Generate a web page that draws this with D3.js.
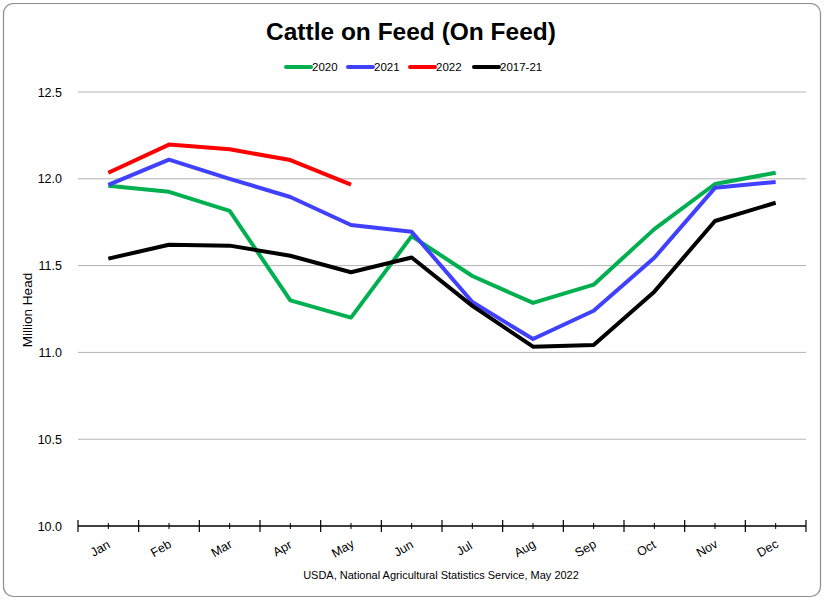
<!DOCTYPE html>
<html><head><meta charset="utf-8">
<script src="https://cdn.jsdelivr.net/npm/d3@7"></script>
<style>
body{margin:0;background:#fff;}
svg{display:block;}
</style></head>
<body>
<script>
const months = ["Jan","Feb","Mar","Apr","May","Jun","Jul","Aug","Sep","Oct","Nov","Dec"];
const yTicks = [10.0, 10.5, 11.0, 11.5, 12.0, 12.5];
const s2020 = [11.96,11.925,11.815,11.30,11.20,11.67,11.44,11.285,11.39,11.71,11.97,12.035];
const s2021 = [11.965,12.11,12.0,11.895,11.734,11.695,11.29,11.077,11.24,11.545,11.948,11.982];
const s2022 = [12.035,12.197,12.17,12.108,11.967];
const s1721 = [11.54,11.62,11.615,11.557,11.462,11.547,11.268,11.033,11.043,11.35,11.757,11.862];
const seriesNames = ["2020","2021","2022","2017-21"];
const seriesColors = ["#00B050","#4040FF","#FF0000","#000000"];
const seriesData = [s2020, s2021, s2022, s1721];

const W = 825, H = 602;
const font = "'Liberation Sans Narrow','Liberation Sans',Arial,sans-serif";
const svg = d3.select("body").append("svg").attr("width", W).attr("height", H);

svg.append("rect").attr("x",3.5).attr("y",3.5).attr("width",817).attr("height",593)
  .attr("rx",10).attr("fill","#fff").attr("stroke","#8c8c8c").attr("stroke-width",1.2);

const pL = 78, pR = 806, pT = 92, pB = 526;
const x = d3.scaleBand().domain(months).range([pL, pR]);
const y = d3.scaleLinear().domain([10, 12.5]).range([pB, pT]);

// title
svg.append("text").attr("x", 411).attr("y", 40).attr("text-anchor","middle")
  .attr("font-family", font).attr("font-weight","bold").attr("font-size", 24.5)
  .text("Cattle on Feed (On Feed)");

// gridlines
svg.append("g").selectAll("line").data(yTicks.filter(d=>d>10)).join("line")
  .attr("x1", pL).attr("x2", pR).attr("y1", d=>y(d)).attr("y2", d=>y(d))
  .attr("stroke","#b3b3b3").attr("stroke-width",1);

// y axis labels
const yAxis = d3.axisLeft(y).tickValues(yTicks).tickFormat(d3.format(".1f")).tickSize(0).tickPadding(16);
const gy = svg.append("g").attr("transform", `translate(${pL},0)`).call(yAxis);
gy.select(".domain").remove();
gy.selectAll("text").attr("font-family", font).attr("font-size", 12.5).attr("fill","#000");

// y title
svg.append("text").attr("transform","translate(32,310) rotate(-90)").attr("text-anchor","middle")
  .attr("font-family","'Liberation Sans',Arial,sans-serif").attr("font-size",13.5).text("Million Head");

// x axis
const gx = svg.append("g").attr("transform", `translate(0,${pB})`);
gx.append("line").attr("x1",pL).attr("x2",pR).attr("stroke","#000").attr("stroke-width",1.5);
const bounds = months.map(m => x(m)).concat([pR]);
gx.selectAll(".maj").data(bounds).join("line").attr("class","maj")
  .attr("x1",d=>d).attr("x2",d=>d).attr("y1",-6).attr("y2",6).attr("stroke","#000").attr("stroke-width",1.2);
gx.selectAll(".min").data(months).join("line").attr("class","min")
  .attr("x1",d=>x(d)+x.bandwidth()/2).attr("x2",d=>x(d)+x.bandwidth()/2).attr("y1",-3).attr("y2",3)
  .attr("stroke","#000").attr("stroke-width",1);
gx.selectAll(".lab").data(months).join("text").attr("class","lab")
  .attr("transform", d=>`translate(${x(d)+x.bandwidth()/2 - 6},${26}) rotate(-30)`)
  .attr("text-anchor","middle").attr("font-family", font).attr("font-size",12.5).attr("fill","#000")
  .text(d=>d);

// lines
const line = d3.line().x((d,i)=>x(months[i]) + x.bandwidth()/2).y(d=>y(d));
seriesData.forEach((s,k)=>{
  svg.append("path").datum(s).attr("d", line).attr("fill","none")
    .attr("stroke", seriesColors[k]).attr("stroke-width",4).attr("stroke-linejoin","round");
});

// legend
const legX = [286, 348, 410, 474];
seriesNames.forEach((n,k)=>{
  const g = svg.append("g").attr("transform",`translate(${legX[k]},67)`);
  g.append("line").attr("x1",0).attr("x2",25).attr("stroke",seriesColors[k]).attr("stroke-width",4).attr("stroke-linecap","round");
  g.append("text").attr("x",26).attr("y",4).attr("font-family",font).attr("font-size",11.5).text(n);
});

// source
svg.append("text").attr("x",441).attr("y",579).attr("text-anchor","middle")
  .attr("font-family",font).attr("font-size",11).text("USDA, National Agricultural Statistics Service, May 2022");
</script>
</body></html>
